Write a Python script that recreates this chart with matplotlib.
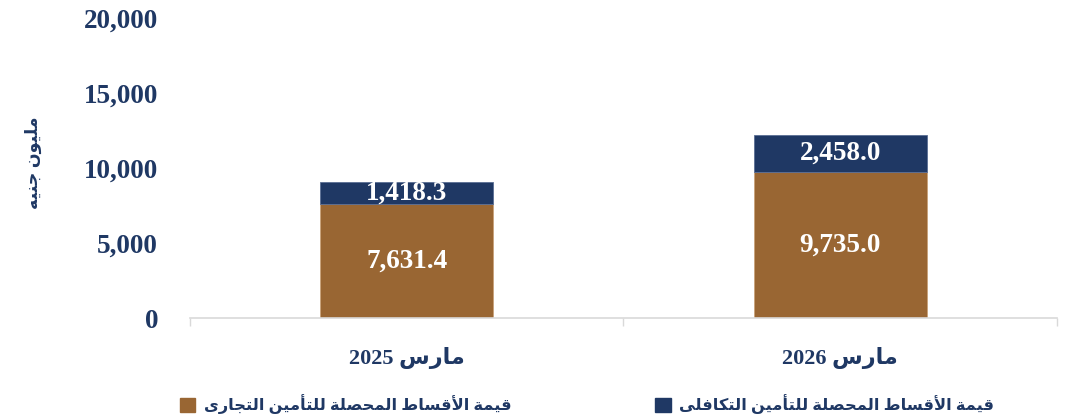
import re
import matplotlib
matplotlib.use('Agg')
import matplotlib.pyplot as plt
from matplotlib.patches import Patch

# data
categories = ['مارس 2025', 'مارس 2026']
commercial = [7631.4, 9735.0]
takaful = [1418.3, 2458.0]
commercial_name = 'قيمة الأقساط المحصلة للتأمين التجارى'
takaful_name = 'قيمة الأقساط المحصلة للتأمين التكافلى'
y_title = 'مليون جنيه'

BROWN = '#996633'
NAVY = '#1F3864'
FONT = ['Liberation Serif', 'DejaVu Sans']

# arabic presentation forms: isolated, final, initial, medial
FORMS = {
    'ا': ('\uFE8D', '\uFE8E', None, None),
    'أ': ('\uFE83', '\uFE84', None, None),
    'ب': ('\uFE8F', '\uFE90', '\uFE91', '\uFE92'),
    'ة': ('\uFE93', '\uFE94', None, None),
    'ت': ('\uFE95', '\uFE96', '\uFE97', '\uFE98'),
    'ج': ('\uFE9D', '\uFE9E', '\uFE9F', '\uFEA0'),
    'ح': ('\uFEA1', '\uFEA2', '\uFEA3', '\uFEA4'),
    'د': ('\uFEA9', '\uFEAA', None, None),
    'ر': ('\uFEAD', '\uFEAE', None, None),
    'س': ('\uFEB1', '\uFEB2', '\uFEB3', '\uFEB4'),
    'ص': ('\uFEB9', '\uFEBA', '\uFEBB', '\uFEBC'),
    'ط': ('\uFEC1', '\uFEC2', '\uFEC3', '\uFEC4'),
    'ف': ('\uFED1', '\uFED2', '\uFED3', '\uFED4'),
    'ق': ('\uFED5', '\uFED6', '\uFED7', '\uFED8'),
    'ك': ('\uFED9', '\uFEDA', '\uFEDB', '\uFEDC'),
    'ل': ('\uFEDD', '\uFEDE', '\uFEDF', '\uFEE0'),
    'م': ('\uFEE1', '\uFEE2', '\uFEE3', '\uFEE4'),
    'ن': ('\uFEE5', '\uFEE6', '\uFEE7', '\uFEE8'),
    'ه': ('\uFEE9', '\uFEEA', '\uFEEB', '\uFEEC'),
    'و': ('\uFEED', '\uFEEE', None, None),
    'ى': ('\uFEEF', '\uFEF0', None, None),
    'ي': ('\uFEF1', '\uFEF2', '\uFEF3', '\uFEF4'),
}
LAM_ALEF = {'ا': ('\uFEFB', '\uFEFC'), 'أ': ('\uFEF7', '\uFEF8')}


def dual(c):
    return c in FORMS and FORMS[c][2] is not None


def shape_word(w):
    items = []
    i = 0
    while i < len(w):
        if w[i] == 'ل' and i + 1 < len(w) and w[i + 1] in LAM_ALEF:
            items.append(('LA', w[i + 1]))
            i += 2
        else:
            items.append(w[i])
            i += 1
    out = []
    for k, it in enumerate(items):
        prev = items[k - 1] if k > 0 else None
        nxt = items[k + 1] if k + 1 < len(items) else None
        join_prev = isinstance(prev, str) and dual(prev)
        if isinstance(it, tuple):
            out.append(LAM_ALEF[it[1]][1 if join_prev else 0])
            continue
        if it not in FORMS:
            out.append(it)
            continue
        join_next = dual(it) and nxt is not None and (isinstance(nxt, tuple) or nxt in FORMS)
        f = FORMS[it]
        if join_prev and join_next:
            out.append(f[3])
        elif join_prev:
            out.append(f[1])
        elif join_next:
            out.append(f[2])
        else:
            out.append(f[0])
    return ''.join(reversed(out))


def ar(text):
    # simple rtl: reverse word order, shape arabic words
    tokens = re.findall(r'\S+|\s+', text)
    res = []
    for t in reversed(tokens):
        if re.search('[\u0600-\u06FF]', t):
            res.append(shape_word(t))
        else:
            res.append(t)
    return ''.join(res)


fig = plt.figure(figsize=(10.71, 4.17), dpi=100)
ax = fig.add_axes([0.1774, 0.2374, 0.8095, 0.7194])

x = list(range(len(categories)))
b1 = ax.bar(x, commercial, width=0.4, color=BROWN, edgecolor='#C9A27A', linewidth=0.6)
b2 = ax.bar(x, takaful, width=0.4, bottom=commercial, color=NAVY, edgecolor='#5A6E94', linewidth=0.6)

ax.bar_label(b1, labels=[f'{v:,.1f}' for v in commercial], label_type='center',
             color='white', fontsize=19.5, fontweight='bold', family=FONT)
ax.bar_label(b2, labels=[f'{v:,.1f}' for v in takaful], label_type='center',
             color='white', fontsize=19.5, fontweight='bold', family=FONT)

ax.set_xlim(-0.5, 1.5)
ax.set_ylim(0, 20000)
ax.set_yticks([0, 5000, 10000, 15000, 20000])
ax.set_yticklabels([f'{v:,.0f}' for v in ax.get_yticks()], fontsize=19.5,
                   fontweight='bold', color=NAVY, family=FONT)
ax.tick_params(axis='y', length=0, pad=23)

ax.set_xticks(x)
ax.set_xticklabels([ar(c) for c in categories], fontsize=16, fontweight='bold',
                   color=NAVY, family=FONT)
ax.tick_params(axis='x', which='major', length=0, pad=21)
ax.set_xticks([-0.5, 0.5, 1.5], minor=True)
ax.tick_params(axis='x', which='minor', length=6, color='#D9D9D9', width=1)

for s in ['top', 'right', 'left']:
    ax.spines[s].set_visible(False)
ax.spines['bottom'].set_color('#D9D9D9')
ax.spines['bottom'].set_linewidth(1.2)

fig.text(0.031, 0.61, ar(y_title), rotation=90, ha='center', va='center',
         fontsize=12.5, fontweight='bold', color=NAVY, family=FONT)

# legend entries placed one by one so the gap matches
for name, col, xpos in [(commercial_name, BROWN, 0.154), (takaful_name, NAVY, 0.598)]:
    leg = fig.legend([Patch(color=col)], [ar(name)], loc='center left',
                     bbox_to_anchor=(xpos, 0.03), frameon=False,
                     handlelength=0.95, handleheight=0.95, handletextpad=0.55,
                     prop={'family': FONT, 'size': 11.7, 'weight': 'bold'})
    leg.get_texts()[0].set_color(NAVY)

fig.savefig('out.png', dpi=100)
